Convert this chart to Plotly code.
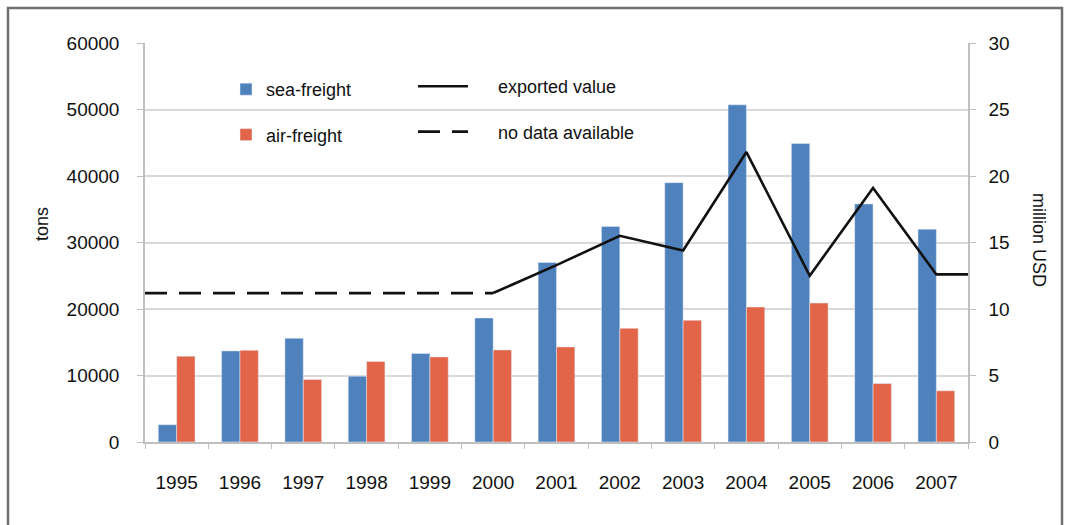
import plotly.graph_objects as go

# Freight volumes (tons) and exported value (million USD) by year
years = ["1995", "1996", "1997", "1998", "1999", "2000", "2001",
         "2002", "2003", "2004", "2005", "2006", "2007"]
sea_freight = [2600, 13700, 15600, 9900, 13300, 18650, 27000,
               32400, 39000, 50700, 44900, 35800, 32000]
air_freight = [12900, 13800, 9400, 12100, 12800, 13850, 14300,
               17100, 18300, 20300, 20900, 8800, 7700]
exported_value = [None, None, None, None, None, 11.2, 13.3,
                  15.5, 14.4, 21.8, 12.5, 19.1, 12.6]

FONT = "Liberation Sans"
TXT = "#111111"
GRID = "#d9d9d9"
AXIS = "#bfbfbf"
BLUE = "#4f81bd"
RED = "#e2654a"
PAD = "\u00a0" * 5  # extra room between the line swatches and their labels

idx = list(range(len(years)))
first = next(i for i, v in enumerate(exported_value) if v is not None)

# solid line: from the first known value, held flat to the right edge
line_x = [i for i in idx if exported_value[i] is not None] + [idx[-1] + 0.5]
line_y = [v for v in exported_value if v is not None] + [exported_value[-1]]

# dashed line: years without data, at the level of the first known value
nd_x = [idx[0] - 0.5, first]
nd_y = [exported_value[first]] * 2

fig = go.Figure()
fig.add_trace(go.Bar(x=idx, y=sea_freight, name="sea-freight",
                     marker_color=BLUE, legend="legend", legendgroup="a"))
fig.add_trace(go.Bar(x=idx, y=air_freight, name="air-freight",
                     marker_color=RED, legend="legend", legendgroup="b"))
fig.add_trace(go.Scatter(x=line_x, y=line_y, mode="lines",
                         name=PAD + "exported value",
                         line=dict(color="#111111", width=2.6), yaxis="y2",
                         legend="legend2", legendgroup="c"))
fig.add_trace(go.Scatter(x=nd_x, y=nd_y, mode="lines",
                         name=PAD + "no data available",
                         line=dict(color="#111111", width=2.8, dash="22px,12px"),
                         yaxis="y2", legend="legend2", legendgroup="d"))

W, H = 1066, 525
L, R, T, B = 145, 968, 43, 442


def px(x):
    return (x - L) / (R - L)


def py(y):
    return (B - y) / (B - T)


fig.update_layout(
    width=W, height=H,
    margin=dict(l=L, r=W - R, t=T, b=H - B),
    paper_bgcolor="white", plot_bgcolor="white",
    font=dict(family=FONT, size=19, color=TXT),
    barmode="group", bargap=0.42, bargroupgap=0,
    xaxis=dict(
        range=[-0.5, len(years) - 0.5],
        tickmode="array", tickvals=idx, ticktext=years,
        ticks="", showgrid=False, zeroline=False,
        showline=True, linecolor=AXIS, linewidth=1.5,
        ticklabelstandoff=22,
        minor=dict(tickmode="array",
                   tickvals=[i - 0.5 for i in idx] + [idx[-1] + 0.5],
                   ticks="outside", ticklen=5, tickcolor=AXIS, showgrid=False),
    ),
    yaxis=dict(
        range=[0, 60000], dtick=10000, tickformat="d",
        showgrid=True, gridcolor=GRID, gridwidth=1.5,
        zeroline=False, showline=True, linecolor=AXIS, linewidth=1.5,
        ticks="outside", ticklen=6, tickcolor=AXIS,
        ticklabelstandoff=14,
    ),
    yaxis2=dict(
        range=[0, 30], dtick=5, overlaying="y", side="right",
        showgrid=False, zeroline=False, showline=True,
        linecolor=AXIS, linewidth=1.5,
        ticks="outside", ticklen=6, tickcolor=AXIS,
        ticklabelstandoff=9,
    ),
    legend=dict(
        x=px(226), y=py(71), xanchor="left", yanchor="top",
        bgcolor="rgba(0,0,0,0)", font=dict(size=18),
        traceorder="grouped", tracegroupgap=19, itemwidth=30,
    ),
    legend2=dict(
        x=px(413), y=py(68), xanchor="left", yanchor="top",
        bgcolor="rgba(0,0,0,0)", font=dict(size=18),
        traceorder="grouped", tracegroupgap=19, itemwidth=50,
    ),
    showlegend=True,
)

# white panel behind the legends (hides the gridline there)
fig.add_shape(type="rect", xref="paper", yref="paper",
              x0=px(210), x1=px(650), y0=py(155), y1=py(62),
              fillcolor="white", line=dict(width=0), layer="between")

# outer frame
fig.add_shape(type="rect", xref="paper", yref="paper",
              x0=px(8), x1=px(1062), y0=py(532), y1=py(8),
              line=dict(color="#707070", width=2.5), fillcolor="rgba(0,0,0,0)")

# axis titles
fig.add_annotation(text="tons", xref="paper", yref="paper",
                   x=px(42), y=py(224), xanchor="center", yanchor="middle",
                   showarrow=False, textangle=-90, font=dict(size=18))
fig.add_annotation(text="million USD", xref="paper", yref="paper",
                   x=px(1039), y=py(240), xanchor="center", yanchor="middle",
                   showarrow=False, textangle=90, font=dict(size=18))

fig.write_html("out.html")
